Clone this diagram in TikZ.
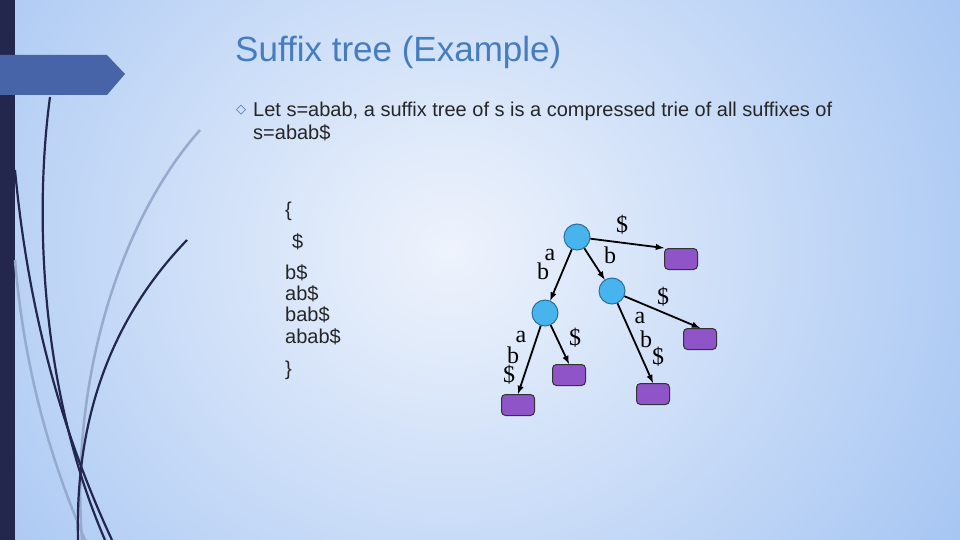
\documentclass[tikz,border=0pt]{standalone}
\usepackage{fontspec}
\setmainfont{Liberation Sans}
\newfontfamily\serifx{Liberation Serif}
\newfontfamily\dejavu{DejaVu Sans}
\begin{document}
\begin{tikzpicture}[x=1pt,y=-1pt,
  inner/.style={circle,fill={rgb,255:red,72;green,180;blue,238},draw={rgb,255:red,40;green,110;blue,160},line width=1pt,minimum size=26pt,inner sep=0pt},
  leaf/.style={rounded corners=4pt,fill={rgb,255:red,142;green,84;blue,200},draw=black!80,line width=1pt,minimum width=33pt,minimum height=21pt,inner sep=0pt},
  edge/.style={-latex,line width=1.8pt},
  lbl/.style={font=\serifx\fontsize{24}{24}\selectfont,inner sep=0pt},
  txt/.style={font=\fontsize{20}{20}\selectfont,anchor=west,inner sep=0pt,text=black!85}]
\useasboundingbox (0,0) rectangle (960,540);
\definecolor{bgA}{HTML}{A0C2F2}\definecolor{bgB}{HTML}{EEF3FC}
\fill[bgA] (0,0) rectangle (960,540);
\shade[inner color=bgB,outer color=bgA] (-200,-350) rectangle (1100,850);
\fill[fill={rgb,255:red,35;green,38;blue,77}] (0,0) rectangle (15,540);
\fill[color={rgb,255:red,72;green,100;blue,168}] (0,55) -- (107,55) -- (125,74) -- (107,95) -- (0,95) -- cycle;
% decorative curves
\begin{scope}[line width=2.5pt,draw={rgb,255:red,150;green,170;blue,205}]
\draw (200,130) .. controls (120,220) and (70,380) .. (82,540);
\draw (15,260) .. controls (25,380) and (55,470) .. (85,540);
\end{scope}
\begin{scope}[line width=2.2pt,draw={rgb,255:red,35;green,38;blue,78}]
\draw (50,97) .. controls (36,200) and (36,380) .. (105,540);
\draw (15,170) .. controls (30,330) and (70,450) .. (112,540);
\draw (187,240) .. controls (110,320) and (75,420) .. (78,540);
\end{scope}
\node[anchor=west,inner sep=0pt,font=\fontsize{35}{35}\selectfont,text={rgb,255:red,70;green,125;blue,190}] (title) at (235,52) {Suffix tree (Example)};
\node[inner sep=0pt,font=\dejavu\fontsize{13}{13}\selectfont,text={rgb,255:red,70;green,110;blue,180}] (bul) at (241,110) {◇};
\node[txt] (l1) at (253,111) {Let s=abab, a suffix tree of s is a compressed trie of all suffixes of};
\node[txt] (l2) at (253,133) {s=abab\$};
\node[txt] (s0) at (285,211) {\{};
\node[txt] (s1) at (292,242) {\$};
\node[txt] (s2) at (285,273) {b\$};
\node[txt] (s3) at (285,294) {ab\$};
\node[txt] (s4) at (285,315) {bab\$};
\node[txt] (s5) at (285,337) {abab\$};
\node[txt] (s6) at (285,370) {\}};
% tree
\node[inner] (r) at (577,237) {};
\node[inner] (a) at (545,313) {};
\node[inner] (b) at (612,291) {};
\node[leaf] (r1) at (681,259) {};
\node[leaf] (a1) at (518,405) {};
\node[leaf] (a2) at (569,375) {};
\node[leaf] (b1) at (653,394) {};
\node[leaf] (b2) at (700,339) {};
\draw[edge] (r) -- (r1.north west);
\draw[edge] (r) -- (a);
\draw[edge] (r) -- (b);
\draw[edge] (a) -- (a1.north);
\draw[edge] (a) -- (a2.north);
\draw[edge] (b) -- (b1.north);
\draw[edge] (b) -- (b2.north);
\node[lbl] (t1) at (622,225) {\$};
\node[lbl] (t2) at (550,255) {a};
\node[lbl] (t3) at (543,271) {b};
\node[lbl] (t4) at (610,255) {b};
\node[lbl] (t5) at (521,337) {a};
\node[lbl] (t6) at (513,355) {b};
\node[lbl] (t7) at (509,375) {\$};
\node[lbl] (t8) at (575,338) {\$};
\node[lbl] (t9) at (663,297) {\$};
\node[lbl] (t10) at (640,318) {a};
\node[lbl] (t11) at (646,339) {b};
\node[lbl] (t12) at (658,357) {\$};
\end{tikzpicture}
\end{document}
